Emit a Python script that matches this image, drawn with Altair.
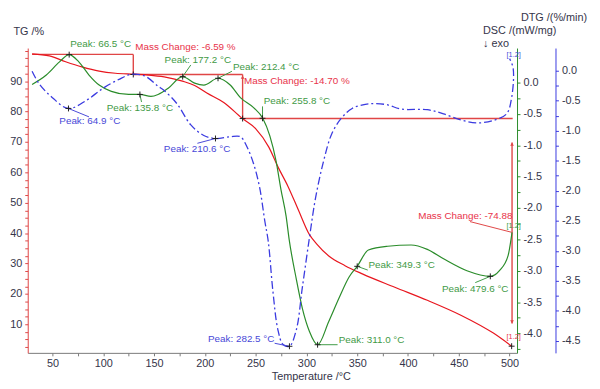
import altair as alt
import pandas as pd

# ---------------- data ----------------
tg_T = [30, 47, 63, 79, 96, 112, 130, 145, 160, 178, 190, 202, 219, 237, 250, 263, 272, 282, 292, 303, 310, 322, 338, 355, 387, 419, 452, 484, 502]
tg_V = [99.0, 98.3, 96.4, 94.7, 93.3, 92.6, 92.3, 92.0, 91.4, 90.0, 88.6, 86.1, 82.9, 77.7, 74.4, 68.3, 61.8, 55.3, 47.7, 39.5, 36.5, 32.5, 29.3, 26.6, 22.2, 17.9, 13.0, 7.1, 2.8]

dsc_T = [30, 44, 57, 66.5, 76, 86, 96, 108, 125, 136, 147, 154, 164, 178, 190, 199, 213, 225, 235, 248,
         257, 264, 270, 275, 280, 283, 290, 296, 303, 311, 322, 332, 342, 350, 361, 380, 403, 419, 435, 458,
         481, 490, 498.5, 502.4]
dsc_V = [-0.03, 0.12, 0.33, 0.445, 0.33, 0.12, -0.04, -0.14, -0.19, -0.19, -0.22, -0.19, -0.09, 0.094, -0.01, -0.04, 0.068, -0.04, -0.24, -0.40,
         -0.57, -0.85, -1.24, -1.71, -2.13, -2.5, -3.13, -3.6, -3.97, -4.18, -3.81, -3.44, -3.10, -2.93, -2.67, -2.61, -2.59, -2.66, -2.81, -3.0,
         -3.09, -3.0, -2.76, -2.39]

dtg_T = [30, 37, 50, 65.8, 83, 96, 102, 115, 128, 141, 154, 160, 173, 186, 199, 210.5, 225, 235, 241, 248,
         254, 259, 262.5, 267, 272, 277, 283.3, 290, 296, 303, 309, 317, 325, 335, 345, 358, 368, 380, 393, 419,
         435, 452, 468, 484, 497, 502, 503.5, 500]
dtg_V = [-0.01, -0.22, -0.45, -0.63, -0.5, -0.34, -0.27, -0.15, -0.06, -0.09, -0.26, -0.33, -0.56, -0.9, -1.08, -1.13, -1.1, -1.1, -1.25, -1.55,
         -1.95, -2.5, -2.85, -3.67, -4.32, -4.56, -4.59, -4.32, -3.61, -2.78, -2.12, -1.5, -1.05, -0.78, -0.63, -0.56, -0.55, -0.57, -0.64, -0.65,
         -0.72, -0.82, -0.87, -0.83, -0.72, -0.45, 0.04, 0.2]

# mass-change step lines (TG scale)
step_T1 = [30, 129.6, 129.6, 237.2, 237.2, 502.4]
step_T2 = [129.6, 129.6, 237.2, 237.2, 503.0, 502.4]
step_V1 = [98.8, 98.8, 92.2, 92.2, 77.7, 69.8]
step_V2 = [98.8, 92.2, 92.2, 77.7, 77.7, 10.3]
arrow_T = [237.2, 502.4, 502.4]
arrow_V = [91.3, 69.3, 10.8]
arrow_dir = ["up", "up", "down"]

tg_mark_T = [129.6, 237.2, 502.0]
tg_mark_V = [92.2, 77.7, 2.8]
tg_lab_text = ["Mass Change: -6.59 %", "Mass Change: -14.70 %", "Mass Change: -74.88", "[1.2]"]
tg_lab_T = [131.6, 238.5, 410.0, 497.0]
tg_lab_V = [101.2, 90.2, 45.6, 5.9]
tg_lead_T1 = [461.0]
tg_lead_T2 = [501.7]
tg_lead_V1 = [43.8]
tg_lead_V2 = [40.3]

dsc_peak_T = [66.5, 136.1, 178.2, 213.0, 256.8, 311.0, 350.0, 481.0]
dsc_peak_V = [0.445, -0.19, 0.094, 0.068, -0.57, -4.18, -2.93, -3.09]
dsc_lab_text = ["Peak: 66.5 °C", "Peak: 135.8 °C", "Peak: 177.2 °C", "Peak: 212.4 °C", "Peak: 255.8 °C",
                "Peak: 311.0 °C", "Peak: 349.3 °C", "Peak: 479.6 °C", "[1.2]"]
dsc_lab_T = [67.5, 103.4, 160.4, 227.7, 258.0, 331.8, 361.0, 433.5, 497.0]
dsc_lab_V = [0.61, -0.40, 0.357, 0.25, -0.29, -4.10, -2.91, -3.30, -2.29]
dsc_lead_T1 = [136.1, 178.2, 213.0, 256.8, 311.0, 350.0, 481.0]
dsc_lead_T2 = [137.7, 186.2, 226.7, 256.8, 330.7, 360.4, 466.2]
dsc_lead_V1 = [-0.19, 0.094, 0.068, -0.57, -4.18, -2.93, -3.09]
dsc_lead_V2 = [-0.31, 0.28, 0.18, -0.38, -4.18, -2.99, -3.19]

dtg_peak_T = [65.8, 210.5, 283.3]
dtg_peak_V = [-0.63, -1.13, -4.59]
dtg_lab_text = ["Peak: 64.9 °C", "Peak: 210.6 °C", "Peak: 282.5 °C", "[1.2]"]
dtg_lab_T = [56.8, 159.7, 203.1, 497.0]
dtg_lab_V = [-0.845, -1.30, -4.47, 0.26]
dtg_lead_T1 = [65.8, 210.5, 268.7]
dtg_lead_T2 = [86.0, 192.7, 283.3]
dtg_lead_V1 = [-0.63, -1.13, -4.54]
dtg_lead_V2 = [-0.77, -1.21, -4.59]

x_ticks = list(range(50, 501, 25))
tg_ticks = [2.5 * i for i in range(1, 41)]
dsc_ticks = [round(-0.25 * i, 2) + 0.0 for i in range(0, 18)]
dtg_ticks = [round(-0.25 * i, 2) + 0.0 for i in range(0, 19)]

# ---------------- styles ----------------
RED = "#e8161e"
RED_STEP = "#e04646"
RED_TXT = "#e8334a"
GREEN = "#2a8c2a"
GREEN_TXT = "#3f9a46"
BLUE = "#3a3ae0"
BLUE_TXT = "#4848d8"
LAB = "#35354a"
FONT = "Liberation Sans"

x_scale = alt.Scale(domain=[25.7, 507.3], nice=False, zero=False)
x_axis = alt.Axis(values=x_ticks, labelExpr="datum.value % 50 == 0 ? datum.label : ''",
                  domainColor="#7a7a7a", tickColor="#7a7a7a", tickSize=3, labelFontSize=11,
                  labelColor=LAB, labelFont=FONT, labelPadding=2, labelOverlap=False,
                  titleX=287, titleY=24, titleBaseline="middle", titleAlign="center",
                  titleFont=FONT, titleFontSize=11, titleFontWeight="normal", titleColor=LAB, grid=False)

tg_scale = alt.Scale(domain=[0.6, 100.9], nice=False, zero=False)
tg_axis = alt.Axis(orient="left", values=tg_ticks,
                   labelExpr="(datum.value % 10 == 0 && datum.value >= 10 && datum.value <= 90) ? datum.label : ''",
                   domainColor=RED_STEP, tickColor=RED_STEP, tickSize=3, labelFontSize=11, labelColor=LAB,
                   labelFont=FONT, labelPadding=3, labelOverlap=False, grid=False, title="TG /%",
                   titleAngle=0, titleX=-15, titleY=-17, titleAlign="left", titleBaseline="middle",
                   titleFont=FONT, titleFontSize=11, titleFontWeight="normal", titleColor=LAB)

dsc_scale = alt.Scale(domain=[-4.31, 0.55], nice=False, zero=False)
dsc_axis = alt.Axis(orient="right", offset=0, values=dsc_ticks,
                    labelExpr="abs(datum.value*2 - round(datum.value*2)) < 0.001 ? replace(format(datum.value, '.1f'), '\u2212', '-') : ''",
                    domainColor=GREEN, tickColor=GREEN, tickSize=3, labelFontSize=11, labelColor=LAB,
                    labelFont=FONT, labelPadding=3, labelOverlap=False, grid=False,
                    title=["DSC /(mW/mg)", "\u00a0\u00a0\u2193 exo"],
                    titleAngle=0, titleX=-35, titleY=-18, titleAlign="left", titleBaseline="middle",
                    titleLineHeight=13, titleFont=FONT, titleFontSize=11, titleFontWeight="normal", titleColor=LAB)

dtg_scale = alt.Scale(domain=[-4.70, 0.376], nice=False, zero=False)
dtg_axis = alt.Axis(orient="right", offset=39, values=dtg_ticks,
                    labelExpr="abs(datum.value*2 - round(datum.value*2)) < 0.001 ? replace(format(datum.value, '.1f'), '\u2212', '-') : ''",
                    domainColor=BLUE, tickColor=BLUE, tickSize=3, labelFontSize=11, labelColor=LAB,
                    labelFont=FONT, labelPadding=3, labelOverlap=False, grid=False, title="DTG /(%/min)",
                    titleAngle=0, titleX=-2, titleY=-31, titleAlign="center", titleBaseline="middle",
                    titleFont=FONT, titleFontSize=11, titleFontWeight="normal", titleColor=LAB)


def X(f="T"):
    return alt.X(f"{f}:Q", scale=x_scale, axis=x_axis, title="Temperature /°C")


def Y(scale, axis, f="V"):
    return alt.Y(f"{f}:Q", scale=scale, axis=axis)


cross = "M-1,0L1,0M0,-1L0,1"

# ---------------- TG layer ----------------
tg_df = pd.DataFrame({"T": tg_T, "V": tg_V, "i": range(len(tg_T))})
step_df = pd.DataFrame({"T": step_T1, "T2": step_T2, "V": step_V1, "V2": step_V2})
arr_df = pd.DataFrame({"T": arrow_T, "V": arrow_V, "d": arrow_dir})
tgm_df = pd.DataFrame({"T": tg_mark_T, "V": tg_mark_V})
tgl_df = pd.DataFrame({"T": tg_lab_T, "V": tg_lab_V, "txt": tg_lab_text,
                       "fs": [10, 10, 10, 7.5]})
tgld_df = pd.DataFrame({"T": tg_lead_T1, "T2": tg_lead_T2, "V": tg_lead_V1, "V2": tg_lead_V2})

tg_layer = alt.layer(
    alt.Chart(step_df).mark_rule(color=RED_STEP, strokeWidth=1.4).encode(
        x=X(), x2="T2:Q", y=Y(tg_scale, tg_axis), y2="V2:Q"),
    alt.Chart(tg_df).mark_line(color=RED, strokeWidth=1.2, interpolate="monotone").encode(
        x=X(), y=Y(tg_scale, tg_axis), order="i:Q"),
    alt.Chart(tgld_df).mark_rule(color=RED_STEP, strokeWidth=1).encode(
        x=X(), x2="T2:Q", y=Y(tg_scale, tg_axis), y2="V2:Q"),
    alt.Chart(arr_df).transform_filter("datum.d == 'up'").mark_point(
        shape="triangle-up", filled=True, color=RED_STEP, size=14, opacity=1).encode(
        x=X(), y=Y(tg_scale, tg_axis)),
    alt.Chart(arr_df).transform_filter("datum.d == 'down'").mark_point(
        shape="triangle-down", filled=True, color=RED_STEP, size=14, opacity=1).encode(
        x=X(), y=Y(tg_scale, tg_axis)),
    alt.Chart(tgm_df).mark_point(shape=cross, filled=False, stroke="#202020", strokeWidth=1, size=36, opacity=1).encode(
        x=X(), y=Y(tg_scale, tg_axis)),
    alt.Chart(tgl_df).mark_text(align="left", baseline="middle", font=FONT, color=RED_TXT).encode(
        x=X(), y=Y(tg_scale, tg_axis), text="txt:N", size=alt.Size("fs:Q", scale=None, legend=None)),
)

# ---------------- DSC layer ----------------
dsc_df = pd.DataFrame({"T": dsc_T, "V": dsc_V, "i": range(len(dsc_T))})
dscp_df = pd.DataFrame({"T": dsc_peak_T, "V": dsc_peak_V})
dscl_df = pd.DataFrame({"T": dsc_lab_T, "V": dsc_lab_V, "txt": dsc_lab_text,
                        "fs": [10] * 8 + [7.5]})
dscld_df = pd.DataFrame({"T": dsc_lead_T1, "T2": dsc_lead_T2, "V": dsc_lead_V1, "V2": dsc_lead_V2})

dsc_layer = alt.layer(
    alt.Chart(dsc_df).mark_line(color=GREEN, strokeWidth=1.2, interpolate="monotone").encode(
        x=X(), y=Y(dsc_scale, dsc_axis), order="i:Q"),
    alt.Chart(dscld_df).mark_rule(color=GREEN_TXT, strokeWidth=1).encode(
        x=X(), x2="T2:Q", y=Y(dsc_scale, dsc_axis), y2="V2:Q"),
    alt.Chart(dscp_df).mark_point(shape=cross, filled=False, stroke="#202020", strokeWidth=1, size=36, opacity=1).encode(
        x=X(), y=Y(dsc_scale, dsc_axis)),
    alt.Chart(dscl_df).mark_text(align="left", baseline="middle", font=FONT, color=GREEN_TXT).encode(
        x=X(), y=Y(dsc_scale, dsc_axis), text="txt:N", size=alt.Size("fs:Q", scale=None, legend=None)),
)

# ---------------- DTG layer ----------------
dtg_df = pd.DataFrame({"T": dtg_T, "V": dtg_V, "i": range(len(dtg_T))})
dtgp_df = pd.DataFrame({"T": dtg_peak_T, "V": dtg_peak_V})
dtgl_df = pd.DataFrame({"T": dtg_lab_T, "V": dtg_lab_V, "txt": dtg_lab_text,
                        "fs": [10, 10, 10, 7.5]})
dtgld_df = pd.DataFrame({"T": dtg_lead_T1, "T2": dtg_lead_T2, "V": dtg_lead_V1, "V2": dtg_lead_V2})

dtg_layer = alt.layer(
    alt.Chart(dtg_df).mark_line(color=BLUE, strokeWidth=1.3, interpolate="catmull-rom",
                                strokeDash=[8, 3, 2, 3]).encode(
        x=X(), y=Y(dtg_scale, dtg_axis), order="i:Q"),
    alt.Chart(dtgld_df).mark_rule(color=BLUE_TXT, strokeWidth=1).encode(
        x=X(), x2="T2:Q", y=Y(dtg_scale, dtg_axis), y2="V2:Q"),
    alt.Chart(dtgp_df).mark_point(shape=cross, filled=False, stroke="#202020", strokeWidth=1, size=36, opacity=1).encode(
        x=X(), y=Y(dtg_scale, dtg_axis)),
    alt.Chart(dtgl_df).mark_text(align="left", baseline="middle", font=FONT, color=BLUE_TXT).encode(
        x=X(), y=Y(dtg_scale, dtg_axis), text="txt:N", size=alt.Size("fs:Q", scale=None, legend=None)),
)

chart = alt.layer(tg_layer, dsc_layer, dtg_layer).resolve_scale(y="independent").properties(
    width=496, height=309,
    autosize=alt.AutoSizeParams(type="none"),
    padding={"left": 20, "top": 38, "right": 76, "bottom": 32},
    background="white",
).configure_view(strokeWidth=0)

chart.save("out.html", embed_options={"renderer": "svg", "actions": False})
